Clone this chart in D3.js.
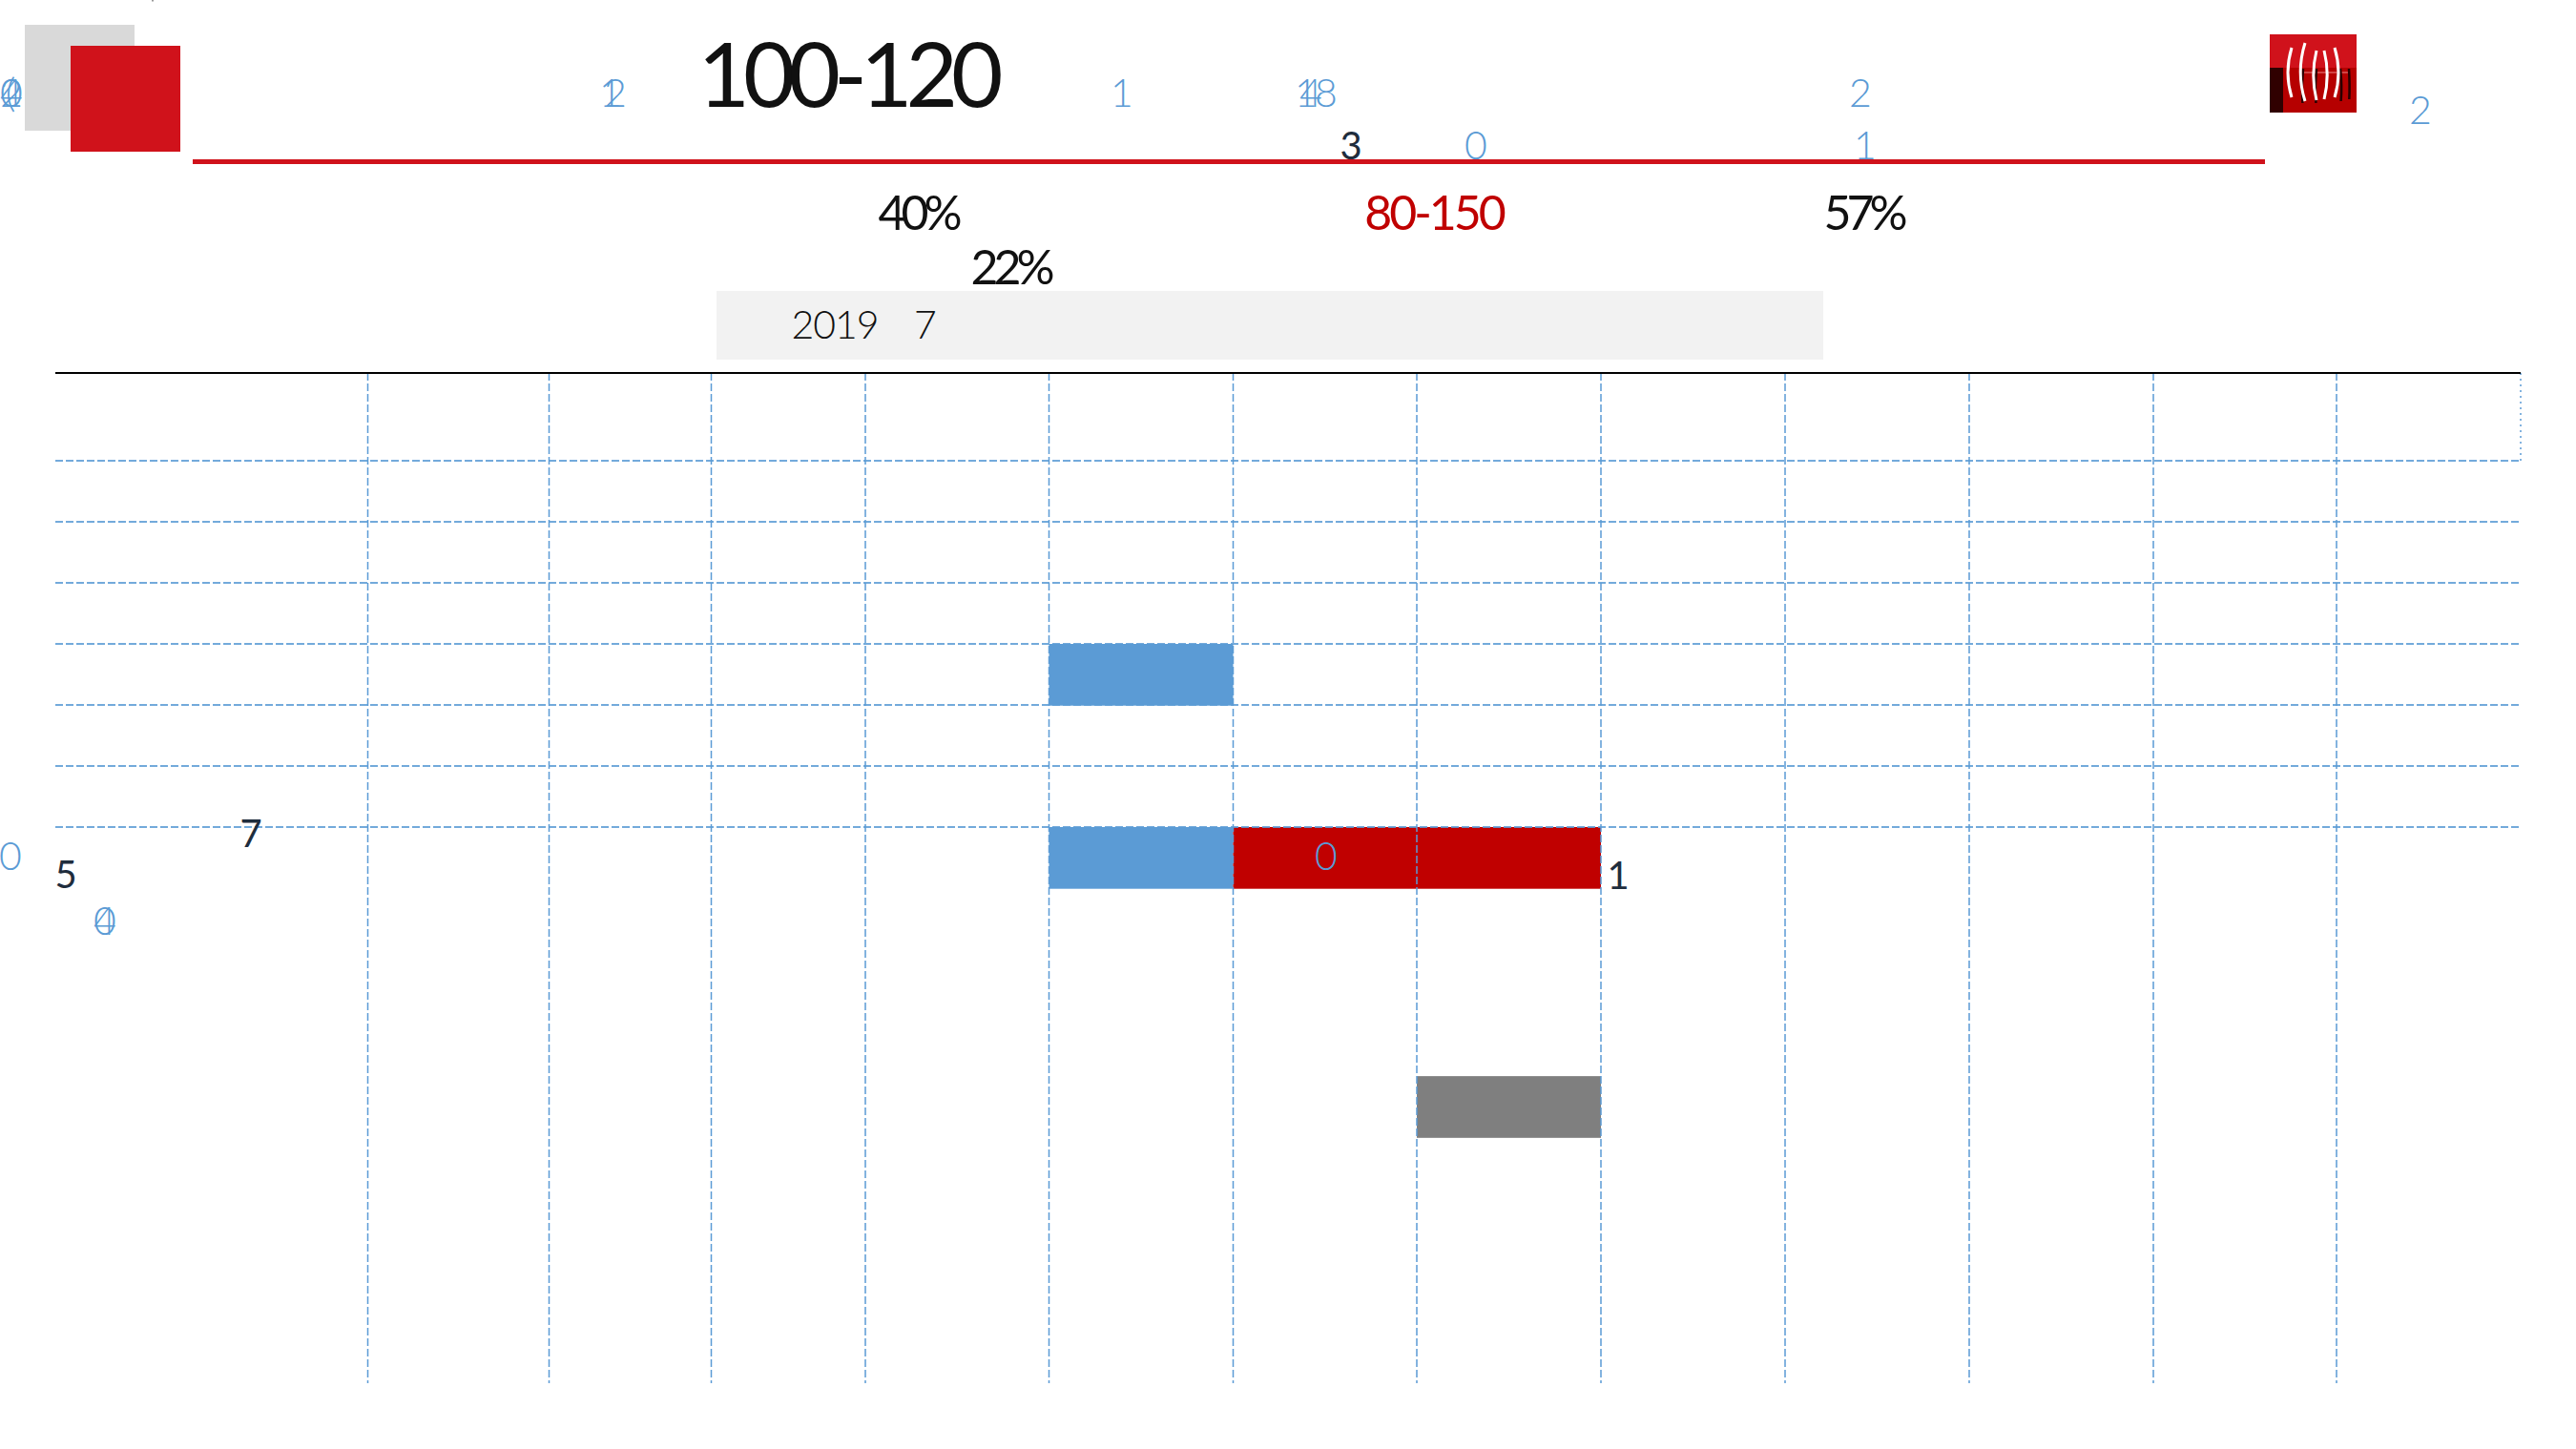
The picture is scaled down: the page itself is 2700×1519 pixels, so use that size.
<!DOCTYPE html>
<html><head><meta charset="utf-8">
<script src="https://cdn.jsdelivr.net/npm/d3@7/dist/d3.min.js"></script>
<style>html,body{margin:0;background:#fff}svg{display:block}text{font-family:Lato,"Noto Sans",sans-serif;font-weight:300}</style>
</head><body><div id="c"></div>
<script>
const columnEdges = [0,1,2,3,4,5,6,7,8,9,10,11,12,13];
const rowLines = [1,2,3,4,5,6,7];
const barStarts = [5,5,6,7];
const barEnds = [6,6,8,8];
const barRows = [4,7,7,11.08];
const barColors = ["#5b9bd5","#5b9bd5","#c00000","#7f7f7f"];
const titleText = "100-120";
const statTexts = ["40%","22%","80-150","57%"];
const periodTexts = ["2019","7"];
const blueDigits = ["0","4","2","(","1","2","1","1","4","8","2","0","1","2","0","0","4","0"];
const darkDigits = ["3","5","7","1"];

const W=2700,H=1519;
const svg=d3.select("#c").append("svg").attr("width",W).attr("height",H);
const x=d3.scaleLinear().domain(columnEdges).range([58,385.5,575.5,745.5,907,1099.5,1292.5,1485,1678,1871,2064,2257,2449,2642]);
const y=d3.scaleLinear().domain([1,7]).range([483,867]);
const rowH=y(2)-y(1);

// header decoration
svg.append("rect").attr("x",159).attr("y",0).attr("width",2).attr("height",1.5).attr("fill","#999");
svg.append("rect").attr("x",26).attr("y",26).attr("width",115).attr("height",111).attr("fill","#d9d9d9");
svg.append("rect").attr("x",74).attr("y",48).attr("width",115).attr("height",111).attr("fill","#d0121b");
svg.append("rect").attr("x",202).attr("y",167).attr("width",2172).attr("height",5).attr("fill","#d0121b");
svg.append("rect").attr("x",751).attr("y",305).attr("width",1160).attr("height",72).attr("fill","#f2f2f2");

// logo
const logo=svg.append("g");
logo.append("rect").attr("x",2379).attr("y",36).attr("width",91).attr("height",36).attr("fill","#d0121b");
logo.append("rect").attr("x",2379).attr("y",71).attr("width",91).attr("height",47).attr("fill","#b60000");
logo.append("rect").attr("x",2379).attr("y",71).attr("width",14).attr("height",47).attr("fill","#300000");
logo.append("line").attr("x1",2410).attr("x2",2462).attr("y1",76).attr("y2",76).attr("stroke","#e88").attr("stroke-width",1);
const darkArcs=[[2414,108,-2],[2428,108,-2],[2453,106,2],[2462,104,1]];
logo.selectAll("path.dk").data(darkArcs).join("path").attr("class","dk").attr("fill","none")
  .attr("stroke","#2a0000").attr("stroke-width",2.5)
  .attr("d",d=>`M${d[0]},72 Q${d[0]+d[2]},90 ${d[0]+d[2]*.3},${d[1]}`);
const arcs=[[2402,50,102,-5],[2416,45,106,-6],[2428,53,105,-4],[2436,53,104,4],[2447,50,102,5]];
logo.selectAll("path.wh").data(arcs).join("path").attr("class","wh").attr("fill","none")
  .attr("stroke","#fff").attr("stroke-width",3)
  .attr("d",d=>`M${d[0]},${d[1]} Q${d[0]+d[3]*1.6},${(d[1]+d[2])/2} ${d[0]},${d[2]}`);

// bars
svg.selectAll("rect.bar").data(barStarts).join("rect").attr("class","bar")
  .attr("x",(d,i)=>x(d)).attr("width",(d,i)=>x(barEnds[i])-x(d))
  .attr("y",(d,i)=>y(barRows[i])).attr("height",rowH+0.7)
  .attr("fill",(d,i)=>barColors[i]);

// grid
svg.selectAll("line.v").data(columnEdges.slice(1,13)).join("line").attr("class","v")
  .attr("x1",d=>x(d)).attr("x2",d=>x(d)).attr("y1",391).attr("y2",1450)
  .attr("stroke","#5b9bd5").attr("stroke-width",1.5).attr("stroke-dasharray","8 3");
svg.selectAll("line.h").data(rowLines).join("line").attr("class","h")
  .attr("x1",x(0)).attr("x2",x(13)).attr("y1",d=>y(d)).attr("y2",d=>y(d))
  .attr("stroke","#5b9bd5").attr("stroke-opacity",.85).attr("stroke-width",2).attr("stroke-dasharray","8 3");
svg.append("line").attr("x1",x(13)).attr("x2",x(13)).attr("y1",391).attr("y2",y(1))
  .attr("stroke","#5b9bd5").attr("stroke-width",1.5).attr("stroke-dasharray","2 4");
svg.append("line").attr("x1",x(0)).attr("x2",x(13)).attr("y1",391).attr("y2",391).attr("stroke","#000").attr("stroke-width",2);

function label(t,cx,by,size,fill,ls,wt){
  svg.append("text").attr("x",cx).attr("y",by).attr("text-anchor","middle")
    .attr("font-size",size).attr("fill",fill).attr("letter-spacing",ls||0)
    .style("font-weight",wt||300).text(t);
}
label(titleText,888,112,94,"#111",-7,400);
const statPos=[[962,241,"#111",-5],[1059,298,"#111",-5],[1503,241,"#c00000",-3],[1953,241,"#111",-5]];
statTexts.forEach((t,i)=>label(t,statPos[i][0],statPos[i][1],50,statPos[i][2],statPos[i][3],400));
label(periodTexts[0],875,355,41,"#111",-1);
label(periodTexts[1],970,355,41,"#111");
const bluePos=[[12,112],[12,112],[12,112],[11,112],[640,112],[645,112],[1176,112],[1369,112],[1374,112],[1390,112],[1950,112],[1547,167],[1955,167],[2537,130],[11,912],[1390,912],[110,980],[110,980]];
blueDigits.forEach((t,i)=>label(t,bluePos[i][0],bluePos[i][1],41,"#5b9bd5",0,300));
const darkPos=[[1416,167],[69,931],[263,888],[1696,932]];
darkDigits.forEach((t,i)=>label(t,darkPos[i][0],darkPos[i][1],40,"#1f2d3d",0,400));
</script></body></html>
